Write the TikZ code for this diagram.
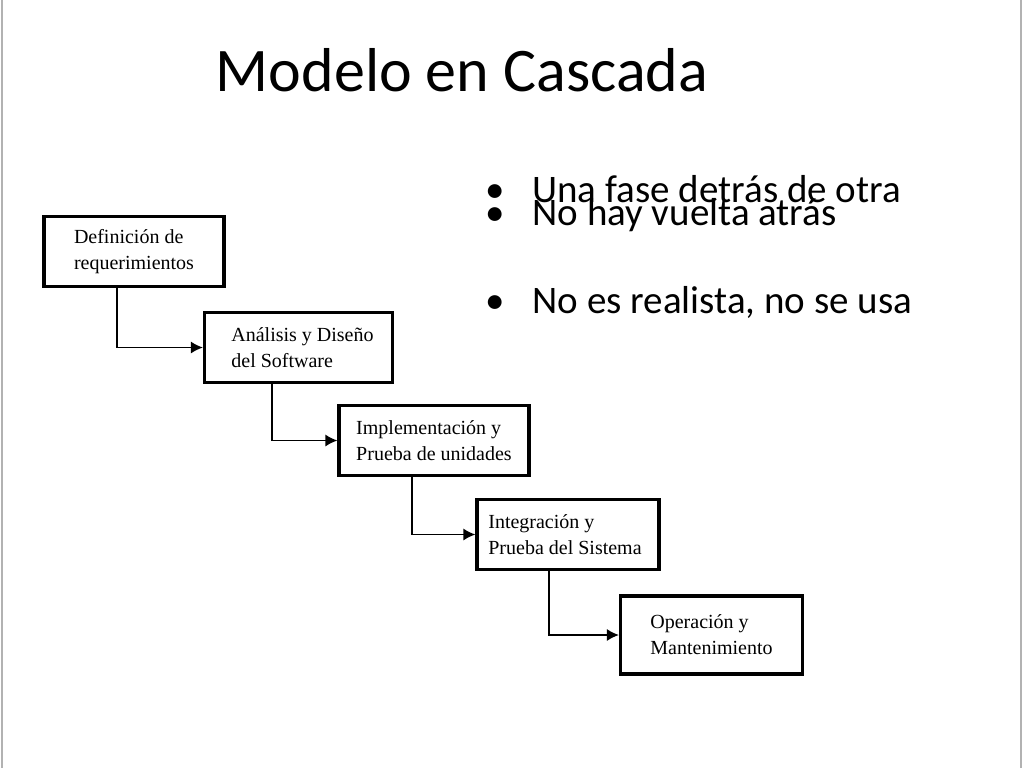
\documentclass[tikz,border=0pt]{standalone}
\usepackage{fontspec}
\setmainfont{Carlito}
\newfontfamily\boxfont{Liberation Serif}
\usetikzlibrary{positioning}
\usetikzlibrary{arrows.meta}
\tikzset{
  phase/.style={draw, line width=1.6pt, minimum height=35pt, inner sep=0pt, align=left, font=\boxfont\fontsize{10}{13}\selectfont},
  flow/.style={line width=0.7pt, -{Latex[length=6pt,width=6pt]}},
  bullet/.style={anchor=base west, font=\fontsize{19.5}{22}\selectfont}
}
\begin{document}
\begin{tikzpicture}[x=0.5pt,y=-0.5pt]
\useasboundingbox (0,0) rectangle (1024,768);
\fill[white] (0,0) rectangle (1024,768);
\draw[gray!60, line width=0.8pt] (2,0) -- (2,768);
\draw[gray!60, line width=0.8pt] (1021,0) -- (1021,768);

\node[font=\fontsize{31}{34}\selectfont] (title) at (462,70) {Modelo en Cascada};

\node[phase, minimum width=90pt] (req) at (134,251.5) {Definición de\\requerimientos};
\node[phase, minimum width=94pt] (ana) at (298.5,347.5) {\hspace*{4pt}Análisis y Diseño\\\hspace*{4pt}del Software};
\node[phase, minimum width=95pt] (imp) at (434,440.5) {Implementación y\\Prueba de unidades};
\node[phase, minimum width=91pt] (int) at (568,534.5) {Integración y\\Prueba del Sistema\hspace*{3pt}};
\node[phase, minimum width=91pt, minimum height=39pt] (ope) at (711.5,635) {Operación y\\Mantenimiento};

\draw[flow] (req.south -| 117,0) |- (ana.west);
\draw[flow] (ana.south -| 272,0) |- (imp.west);
\draw[flow] (imp.south -| 412,0) |- (int.west);
\draw[flow] (int.south -| 549,0) |- (ope.west);

\node[bullet] (b1) at (478,202) {\textbullet\hspace{14pt}Una fase detrás de otra};
\node[bullet] (b2) at (478,225) {\textbullet\hspace{14pt}No hay vuelta atrás};
\node[bullet] (b3) at (478,313) {\textbullet\hspace{14pt}No es realista, no se usa};
\end{tikzpicture}
\end{document}
